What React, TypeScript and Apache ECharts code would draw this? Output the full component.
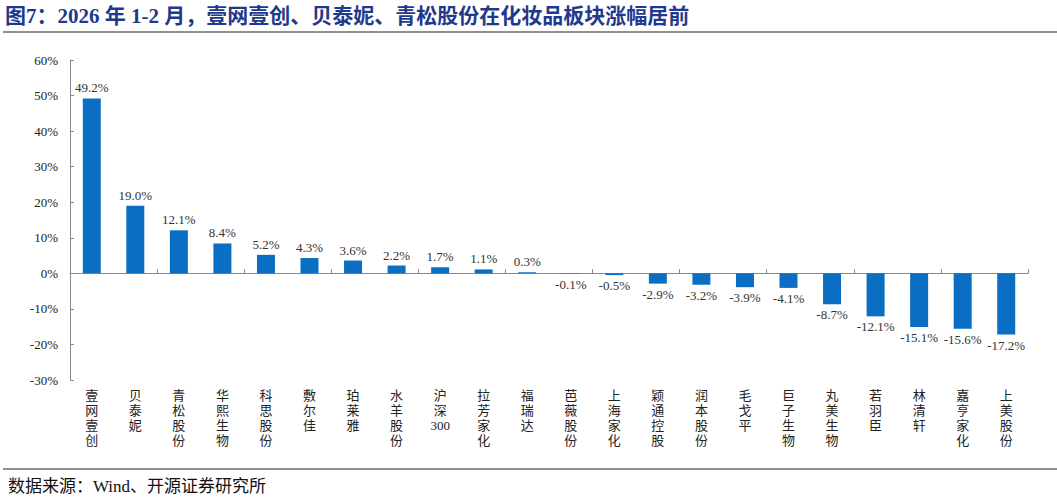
import React, { useEffect, useRef } from "react";
import * as echarts from "echarts";

const categories = ["壹网壹创", "贝泰妮", "青松股份", "华熙生物", "科思股份", "敷尔佳", "珀莱雅", "水羊股份", "沪深300", "拉芳家化", "福瑞达", "芭薇股份", "上海家化", "颖通控股", "润本股份", "毛戈平", "巨子生物", "丸美生物", "若羽臣", "林清轩", "嘉亨家化", "上美股份"];
const values = [49.2, 19.0, 12.1, 8.4, 5.2, 4.3, 3.6, 2.2, 1.7, 1.1, 0.3, -0.1, -0.5, -2.9, -3.2, -3.9, -4.1, -8.7, -12.1, -15.1, -15.6, -17.2];
const yTicks = { min: -30, max: 60, interval: 10 };
const title = "图7：2026 年 1-2 月，壹网壹创、贝泰妮、青松股份在化妆品板块涨幅居前";
const source = "数据来源：Wind、开源证券研究所";

const FONT = "'Liberation Serif', 'Noto Sans CJK SC', serif";

function verticalLabel(s: string): string {
  if (s === "沪深300") return "沪\n深\n300";
  return s.split("").join("\n");
}

export default function App() {
  const ref = useRef<HTMLDivElement>(null);
  useEffect(() => {
    document.body.style.margin = "0";
    const chart = echarts.init(ref.current!, null, { renderer: "svg" });
    chart.setOption({
      animation: false,
      backgroundColor: "#ffffff",
      textStyle: { fontFamily: FONT },
      grid: { left: 70, right: 29, top: 60, bottom: 119, containLabel: false },
      graphic: [
        {
          type: "text",
          left: 5,
          top: 5,
          style: { text: title, fill: "#1f3a8c", font: "bold 21px " + FONT },
        },
        {
          type: "line",
          shape: { x1: 3, y1: 32, x2: 1057, y2: 32 },
          style: { stroke: "#222", lineWidth: 1.2 },
        },
        {
          type: "line",
          shape: { x1: 3, y1: 469, x2: 1057, y2: 469 },
          style: { stroke: "#222", lineWidth: 1 },
        },
        {
          type: "text",
          left: 8,
          top: 478,
          style: { text: source, fill: "#111", font: "17px " + FONT },
        },
      ],
      xAxis: [
        {
          type: "category",
          data: categories,
          position: "top",
          axisLine: { onZero: true, lineStyle: { color: "#888", width: 1 } },
          axisTick: { show: true, inside: false, length: 4, lineStyle: { color: "#888" } },
          axisLabel: { show: false },
        },
        {
          type: "category",
          data: categories.map(verticalLabel),
          position: "bottom",
          axisLine: { show: false, onZero: false },
          axisTick: { show: false },
          axisLabel: {
            interval: 0,
            fontSize: 13,
            lineHeight: 15,
            color: "#222",
            margin: 8,
            verticalAlign: "top",
            fontFamily: FONT,
          },
        },
      ],
      yAxis: {
        type: "value",
        min: yTicks.min,
        max: yTicks.max,
        interval: yTicks.interval,
        splitLine: { show: false },
        axisLine: { show: true, lineStyle: { color: "#888" } },
        axisTick: { show: true, inside: true, length: 4, lineStyle: { color: "#888" } },
        axisLabel: {
          formatter: (v: number) => v + "%",
          fontSize: 13,
          color: "#222",
          margin: 12,
          fontFamily: FONT,
        },
      },
      series: [
        {
          type: "bar",
          xAxisIndex: 0,
          barWidth: 18,
          itemStyle: { color: "#0a6fc2" },
          data: values.map((v) => ({
            value: v,
            label: {
              show: true,
              position: v >= 0 ? "top" : "bottom",
              distance: 4,
              formatter: v.toFixed(1) + "%",
              fontSize: 13,
              color: "#333",
              fontFamily: FONT,
            },
          })),
        },
      ],
    });
    return () => chart.dispose();
  }, []);
  return <div ref={ref} style={{ position: "absolute", left: 0, top: 0, width: 1057, height: 499 }} />;
}
